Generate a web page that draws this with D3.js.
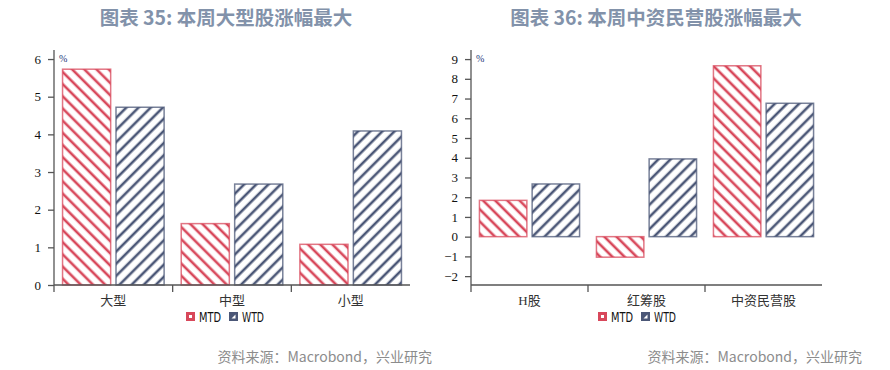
<!DOCTYPE html>
<html><head><meta charset="utf-8">
<script src="https://cdn.jsdelivr.net/npm/d3@7/dist/d3.min.js"></script>
<style>body{margin:0;background:#fff;}svg{display:block;}</style>
</head><body>
<svg id="chart" width="890" height="370"></svg>
<script>
// ---- data ----
const seriesNames = ["MTD", "WTD"];
const leftTitle = "图表 35: 本周大型股涨幅最大";
const leftCategories = ["大型", "中型", "小型"];
const leftMTD = [5.73, 1.63, 1.08];
const leftWTD = [4.72, 2.68, 4.09];
const leftTicks = [0, 1, 2, 3, 4, 5, 6];

const rightTitle = "图表 36: 本周中资民营股涨幅最大";
const rightCategories = ["H股", "红筹股", "中资民营股"];
const rightMTD = [1.84, -1.04, 8.66];
const rightWTD = [2.67, 3.94, 6.76];
const rightTicks = [-2, -1, 0, 1, 2, 3, 4, 5, 6, 7, 8, 9];

const sourceText = "资料来源：Macrobond，兴业研究";

// ---- style ----
const RED = "#d8485b", NAVY = "#4b5777";
const svg = d3.select("#chart");
const defs = svg.append("defs");
function hatch(id, color, angle) {
  const p = defs.append("pattern").attr("id", id).attr("patternUnits", "userSpaceOnUse")
    .attr("width", 8.6).attr("height", 8.6).attr("patternTransform", `rotate(${angle})`);
  p.append("rect").attr("width", 8.6).attr("height", 8.6).attr("fill", "#fff");
  p.append("line").attr("x1", 2).attr("y1", -1).attr("x2", 2).attr("y2", 10)
    .attr("stroke", color).attr("stroke-width", 2.6);
}
hatch("hRed", RED, -45);
hatch("hNavy", NAVY, 45);
const fills = {MTD: "url(#hRed)", WTD: "url(#hNavy)"};
const colors = {MTD: RED, WTD: NAVY};

function panel(cfg) {
  const g = svg.append("g");
  const x = d3.scaleBand().domain(cfg.categories).range([cfg.x0, cfg.x1]).padding(0);
  const xs = d3.scaleBand().domain(seriesNames).range([0, x.bandwidth()])
    .paddingInner(0.1).paddingOuter(0.16);
  const y = d3.scaleLinear().domain(cfg.domain).range([285, 50]);

  // title
  g.append("text").attr("x", cfg.titleX).attr("y", 25).attr("text-anchor", "middle")
    .attr("font-family", "'Noto Sans CJK SC', sans-serif").attr("font-weight", "bold")
    .attr("font-size", 19.5).attr("fill", "#8292aa").text(cfg.title);

  // bars
  const data = [];
  cfg.categories.forEach((c, i) => {
    data.push({c, s: "MTD", v: cfg.mtd[i]});
    data.push({c, s: "WTD", v: cfg.wtd[i]});
  });
  g.selectAll("rect.bar").data(data).join("rect").attr("class", "bar")
    .attr("x", d => x(d.c) + xs(d.s))
    .attr("width", xs.bandwidth())
    .attr("y", d => y(Math.max(0, d.v)))
    .attr("height", d => Math.abs(y(d.v) - y(0)))
    .attr("fill", d => fills[d.s])
    .attr("stroke", d => colors[d.s]).attr("stroke-opacity", 0.75).attr("stroke-width", 1.5);

  // y axis
  const ya = d3.axisLeft(y).tickValues(cfg.ticks).tickSize(6).tickPadding(7).tickFormat(d3.format("d"));
  const yg = g.append("g").attr("transform", `translate(${cfg.x0},0)`).call(ya);
  yg.select(".domain").attr("stroke", "#555").attr("stroke-width", 1.3).attr("d", `M0,50V285`);
  yg.selectAll(".tick line").attr("stroke", "#555").attr("stroke-width", 1.3);
  yg.selectAll("text").attr("font-family", "'Liberation Serif', serif").attr("font-size", 13).attr("fill", "#111");

  // % label
  g.append("text").attr("x", cfg.x0 + 5).attr("y", 62).attr("font-family", "'Liberation Serif', serif")
    .attr("font-size", 10).attr("fill", "#23357a").text("%");

  // x axis
  g.append("line").attr("x1", cfg.x0).attr("x2", cfg.x1).attr("y1", 285).attr("y2", 285)
    .attr("stroke", "#555").attr("stroke-width", 1.3);
  g.selectAll("line.xt").data(cfg.categories).join("line").attr("class", "xt")
    .attr("x1", d => x(d)).attr("x2", d => x(d)).attr("y1", 285).attr("y2", 292)
    .attr("stroke", "#555").attr("stroke-width", 1.3);
  g.selectAll("text.xl").data(cfg.categories).join("text").attr("class", "xl")
    .attr("x", d => x(d) + x.bandwidth() / 2).attr("y", 305).attr("text-anchor", "middle")
    .attr("font-family", "'Liberation Serif', 'Noto Sans CJK SC', sans-serif").attr("font-size", 13).attr("fill", "#333")
    .text(d => d);

  // legend
  const lg = g.append("g").attr("transform", `translate(${cfg.legendX},312)`);
  seriesNames.forEach((s, i) => {
    const gx = i * 43;
    if (s === "MTD") {
      lg.append("rect").attr("x", gx).attr("y", 0).attr("width", 9).attr("height", 9).attr("fill", RED);
      lg.append("rect").attr("x", gx + 3).attr("y", 3).attr("width", 3).attr("height", 3).attr("fill", "#fff");
    } else {
      lg.append("rect").attr("x", gx).attr("y", 0).attr("width", 9).attr("height", 9).attr("fill", NAVY);
      lg.append("path").attr("d", `M${gx + 2.5},${6.5}L${gx + 6.5},${2.5}V${6.5}Z`).attr("fill", "#fff");
    }
    lg.append("text").attr("x", gx + 13).attr("y", 10).attr("font-family", "'DejaVu Sans Condensed', sans-serif")
      .attr("font-size", 13.5).attr("fill", "#111")
      .attr("textLength", 22).attr("lengthAdjust", "spacingAndGlyphs").text(s);
  });

  // source
  g.append("text").attr("x", cfg.sourceX).attr("y", 362).attr("text-anchor", "end")
    .attr("font-family", "'Noto Sans CJK SC', sans-serif").attr("font-size", 14).attr("fill", "#8c8c8c")
    .text(sourceText);
}

panel({title: leftTitle, titleX: 226, categories: leftCategories, mtd: leftMTD, wtd: leftWTD,
  ticks: leftTicks, domain: [0, 6.24], x0: 54, x1: 410, legendX: 186, sourceX: 432});
panel({title: rightTitle, titleX: 656, categories: rightCategories, mtd: rightMTD, wtd: rightWTD,
  ticks: rightTicks, domain: [-2.45, 9.46], x0: 471, x1: 822, legendX: 598, sourceX: 862});
</script>
</body></html>
